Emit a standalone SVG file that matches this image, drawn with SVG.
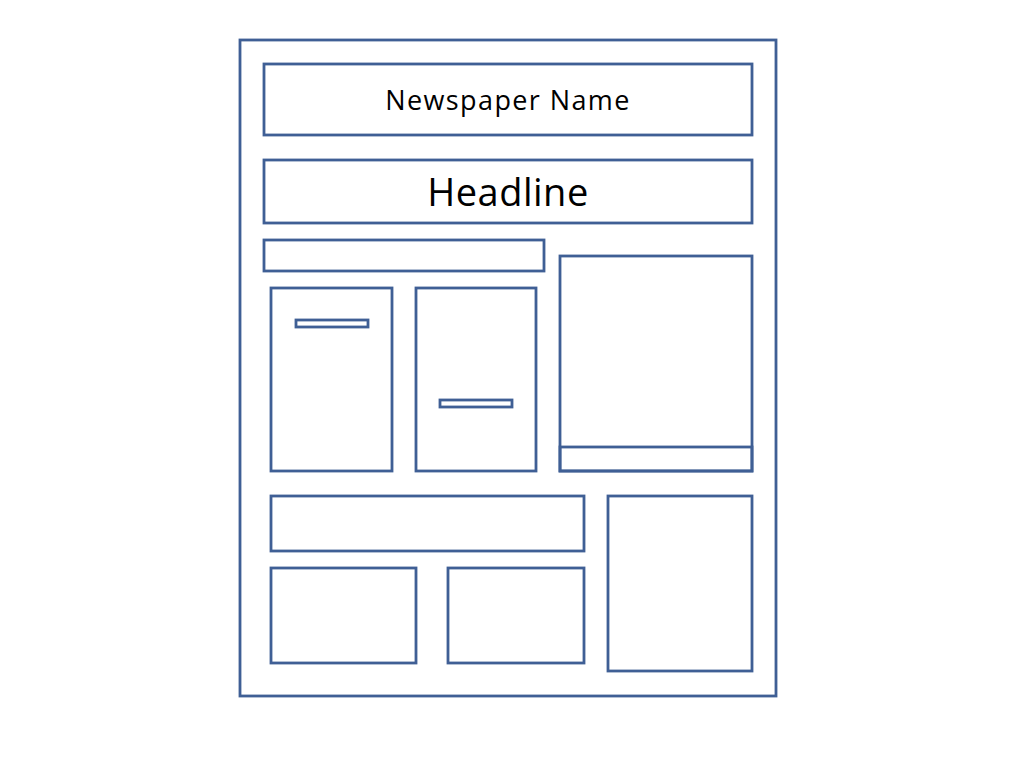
<svg xmlns="http://www.w3.org/2000/svg" width="1024" height="768" viewBox="0 0 1024 768">
<style>
rect{fill:none;stroke:#3f5f95;stroke-width:2.8}
text{font-family:"Open Sans","Noto Sans","Liberation Sans",sans-serif;fill:#000;text-anchor:middle}
</style>
<rect x="0" y="0" width="1024" height="768" style="fill:#fff;stroke:none"/>
<g id="page"><rect x="240" y="40" width="536" height="656"/></g>
<g id="name"><rect x="264" y="64" width="488" height="71"/><text x="508" y="110" font-size="27" letter-spacing="1.4">Newspaper Name</text></g>
<g id="headline"><rect x="264" y="160" width="488" height="63"/><text x="508" y="206" font-size="38" letter-spacing="0.5">Headline</text></g>
<g id="subhead"><rect x="264" y="240" width="280" height="31"/></g>
<g id="col1"><rect x="271" y="288" width="121" height="183"/><rect x="296" y="320" width="72" height="7"/></g>
<g id="col2"><rect x="416" y="288" width="120" height="183"/><rect x="440" y="400" width="72" height="7"/></g>
<g id="photo"><rect x="560" y="256" width="192" height="215"/><rect x="560" y="447" width="192" height="24"/></g>
<g id="wide"><rect x="271" y="496" width="313" height="55"/></g>
<g id="side"><rect x="608" y="496" width="144" height="175"/></g>
<g id="box1"><rect x="271" y="568" width="145" height="95"/></g>
<g id="box2"><rect x="448" y="568" width="136" height="95"/></g>
<g id="connectors"/>
</svg>
